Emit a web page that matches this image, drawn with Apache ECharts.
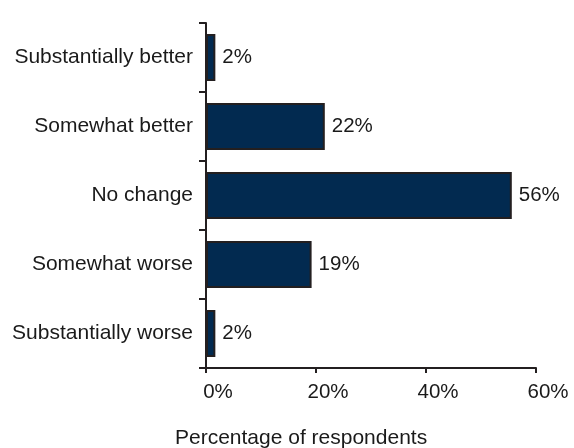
<!DOCTYPE html>
<html>
<head>
<meta charset="utf-8">
<script src="https://cdn.jsdelivr.net/npm/echarts@6/dist/echarts.min.js"></script>
<style>
    html, body { margin: 0; padding: 0; background: #fff; }
    #chart { width: 574px; height: 448px; }
</style>
</head>
<body>
<div id="chart"></div>
<script>
const categories = ['Substantially better', 'Somewhat better', 'No change', 'Somewhat worse', 'Substantially worse'];
const shares = [1.7, 21.6, 55.6, 19.2, 1.7];
const xTicks = [0, 20, 40, 60];

function initChart() {
    let chart = echarts.init(document.getElementById('chart'));
    let option = {
        animation: false,
        textStyle: {fontFamily: 'Liberation Sans, Arial, sans-serif'},
        grid: {left: 206, right: 38, top: 23, bottom: 80},
        xAxis: {
            type: 'value',
            min: xTicks[0],
            max: xTicks[xTicks.length - 1],
            interval: 20,
            splitLine: {show: false},
            axisLine: {show: true, lineStyle: {color: '#231f20', width: 2}},
            axisTick: {show: true, length: 5, lineStyle: {color: '#231f20', width: 2}},
            axisLabel: {
                fontSize: 20.5,
                color: '#1a1a1a',
                margin: 14,
                padding: [0, 0, 0, 24],
                formatter: function (v) {
                    return v + '%';
                }
            }
        },
        yAxis: {
            type: 'category',
            data: categories,
            inverse: true,
            axisLine: {show: true, lineStyle: {color: '#231f20', width: 2}},
            axisTick: {show: true, length: 7, lineStyle: {color: '#231f20', width: 2}},
            axisLabel: {fontSize: 21, color: '#1a1a1a', margin: 13}
        },
        graphic: [
            {
                type: 'text',
                left: 175,
                top: 428,
                style: {
                    text: 'Percentage of respondents',
                    font: '21px Liberation Sans, Arial, sans-serif',
                    fill: '#1a1a1a'
                }
            }
        ],
        series: [
            {
                type: 'bar',
                data: shares,
                barCategoryGap: '32%',
                itemStyle: {
                    color: '#022a50',
                    borderColor: '#231f20',
                    borderWidth: 2
                },
                label: {
                    show: true,
                    position: 'right',
                    distance: 7,
                    fontSize: 20.5,
                    color: '#1a1a1a',
                    formatter: function (params) {
                        return Math.round(params.value) + '%';
                    }
                }
            }
        ]
    };
    chart.setOption(option);
}

initChart();
</script>
</body>
</html>
